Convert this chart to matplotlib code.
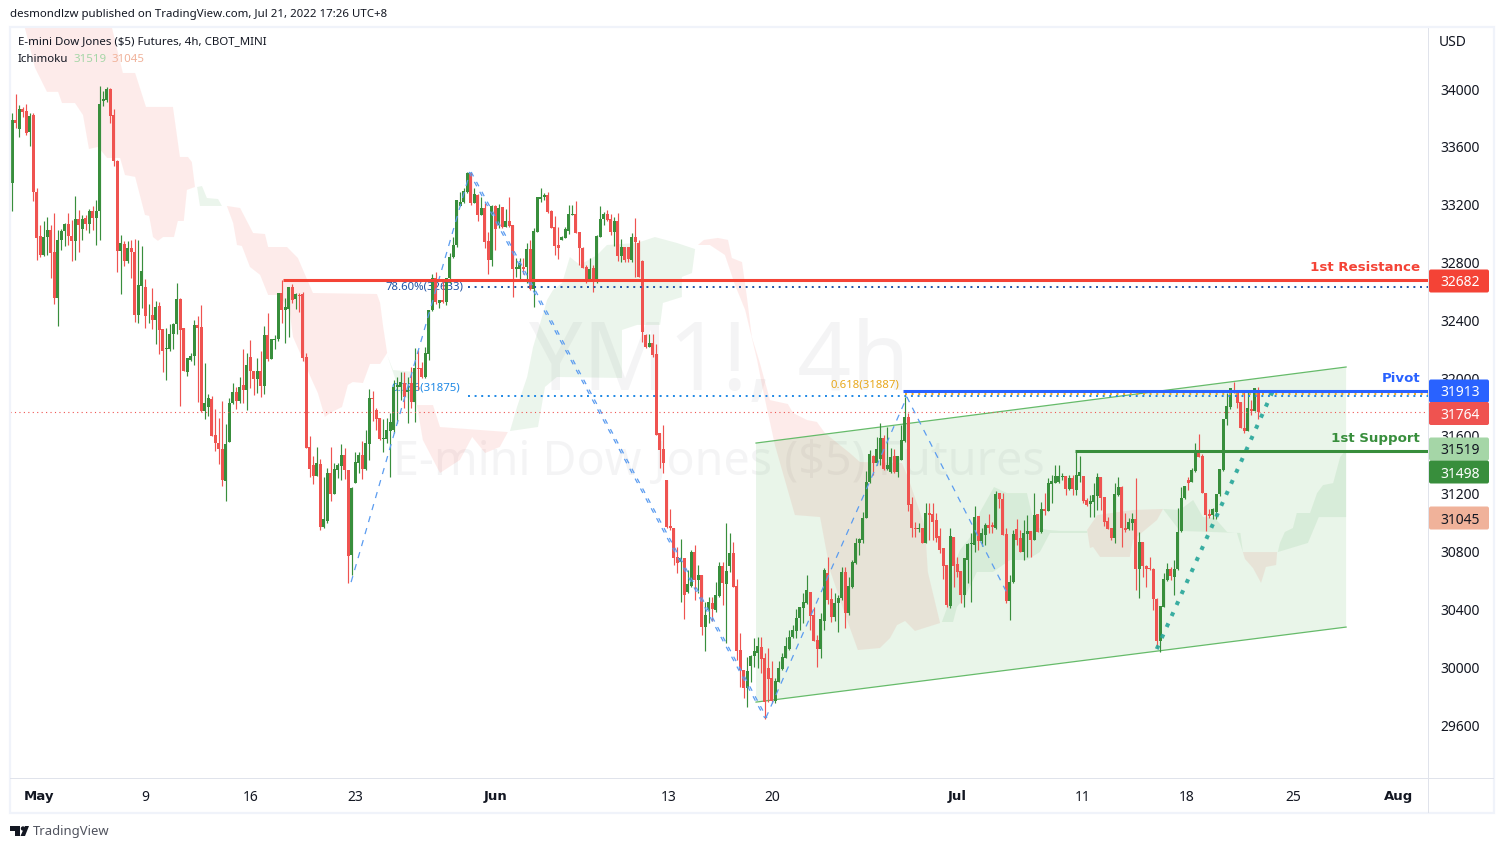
"""
YM1! 4h chart, TradingView snapshot
"""
import matplotlib
matplotlib.use('Agg')
import matplotlib.pyplot as plt
from matplotlib.patches import FancyBboxPatch, Rectangle, Polygon, Circle
from matplotlib.transforms import IdentityTransform
import numpy as np

plt.rcParams['font.family'] = ['Noto Sans', 'DejaVu Sans']

# candles (bar 0 = first candle)
opens = [
    33349,33786,33726,33860,33848,33706,33821,33287,32983,32850,
    32974,33025,32873,32553,32954,33018,33068,32983,32946,33103,
    33034,33110,33068,33158,33105,33153,33920,33924,34000,33821,
    33503,32882,32930,32813,32903,32875,32436,32636,32627,32436,
    32440,32401,32496,32337,32204,32199,32307,32372,32544,32344,
    32043,32123,32153,32369,32351,31771,31799,31859,31610,31550,
    31513,31290,31555,31831,31905,31843,31950,31918,32148,32052,
    31992,32047,31946,32300,32130,32264,32268,32586,32470,32475,
    32627,32544,32577,32579,32144,31523,31399,31325,31406,30970,
    31014,31341,31198,31364,31392,31468,31364,30776,31277,31415,
    31468,31371,31544,31862,31779,31722,31577,31577,31636,31641,
    31936,31941,31968,31906,31968,31837,32068,32068,32010,32165,
    32471,32690,32522,32540,32527,32690,32836,32921,33193,33216,
    33290,33417,33209,33267,33129,33179,32949,32817,33191,33059,
    33182,33048,33087,33059,32753,32753,32766,32771,32893,32614,
    33013,33237,33255,33267,33158,33043,32921,32956,32972,33020,
    33129,33133,33013,32903,32771,32674,32764,32674,32979,33099,
    33135,33099,33013,33087,32845,32905,32905,32817,32974,32937,
    32810,32298,32218,32245,32165,31618,31507,31295,30977,30963,
    30760,30726,30753,30518,30564,30795,30603,30638,30276,30396,
    30442,30396,30493,30700,30576,30700,30792,30562,30119,29981,
    29854,30009,30078,30101,30142,30064,29992,29923,29769,29900,
    29988,30066,30124,30211,30253,30343,30412,30442,30518,30361,
    30188,30124,30322,30650,30472,30345,30442,30476,30661,30377,
    30557,30721,30857,30880,31032,31284,31461,31410,31443,31583,
    31369,31353,31461,31353,31434,31565,31729,31127,30963,30954,
    30961,30862,31064,31057,31018,30908,30822,30707,30424,30903,
    30714,30666,30500,30742,30852,30845,31048,30875,30915,30984,
    30982,30961,31203,31161,30919,30458,30587,30956,30896,30799,
    30922,30942,30880,31057,30938,31092,31083,31268,31277,31279,
    31318,31325,31230,31311,31226,31322,31322,31154,31129,31145,
    31184,31318,31175,31011,30960,30891,31189,31246,30960,30954,
    30995,31023,30679,30864,30702,30686,30679,30474,30183,30419,
    30603,30677,30626,30677,30944,31168,31295,31283,31359,31498,
    31461,31207,31060,31053,31076,31196,31364,31715,31802,31913,
    31906,31837,31657,31636,31784,31775,31917]
closes = [
    33786,33768,33860,33844,33699,33814,33285,32967,32850,32979,
    33025,32864,32553,32956,33018,33068,32981,32946,33103,33057,
    33103,33068,33158,33105,33158,33896,33929,34000,33816,33499,
    32882,32937,32813,32903,32870,32436,32645,32744,32429,32440,
    32401,32489,32332,32187,32208,32307,32376,32544,32332,32047,
    32137,32153,32369,32346,31771,31831,31866,31601,31550,31509,
    31297,31541,31831,31907,31843,31941,31918,32089,32047,31992,
    32047,31946,32296,32130,32268,32273,32586,32470,32489,32627,
    32539,32581,32567,32137,31516,31371,31325,31412,30972,31025,
    31341,31198,31371,31399,31468,31364,30772,31240,31417,31468,
    31371,31549,31862,31858,31717,31577,31583,31641,31694,31941,
    31950,31971,31872,31918,31837,32068,32063,32010,32172,32471,
    32690,32529,32540,32527,32690,32840,32921,33232,33221,33297,
    33417,33214,33271,33129,33179,32944,32817,33191,33029,33175,
    33048,33087,33055,32757,32766,32799,32757,32893,32614,33018,
    33255,33255,33267,33152,33041,32914,32903,32974,33032,33133,
    33133,33006,32903,32764,32674,32755,32674,32983,33099,33135,
    33094,33013,33087,32845,32905,32817,32822,32974,32944,32702,
    32321,32218,32245,32160,31607,31503,31415,30972,30961,30758,
    30723,30756,30500,30576,30797,30603,30638,30276,30361,30449,
    30400,30500,30700,30580,30666,30792,30557,30115,29981,29859,
    29974,30078,30115,30147,30059,29762,29919,29769,29905,29992,
    30073,30147,30211,30257,30343,30414,30449,30534,30354,30184,
    30124,30331,30673,30465,30345,30447,30476,30661,30377,30562,
    30728,30857,30887,31032,31284,31475,31410,31510,31588,31369,
    31399,31457,31353,31461,31572,31733,31122,30961,30954,30961,
    30862,31064,31053,31007,30896,30811,30703,30430,30908,30700,
    30661,30500,30758,30852,30857,31037,30875,30926,30984,30966,
    30968,31198,31161,30915,30458,30587,30922,30880,30799,30926,
    30942,30880,31053,30938,31092,31083,31272,31288,31323,31325,
    31325,31230,31311,31230,31329,31348,31150,31122,31152,31191,
    31318,31168,31002,30956,30896,31196,31246,30960,30947,31002,
    31023,30679,30864,30702,30677,30677,30469,30183,30423,30608,
    30677,30631,30677,30937,31168,31253,31276,31364,31498,31456,
    31203,31053,31046,31092,31196,31369,31715,31807,31929,31894,
    31830,31657,31636,31791,31775,31929,31764]
highs = [
    33832,33965,33890,33878,33896,33837,33832,33314,33061,33087,
    33114,33061,33142,33022,33032,33073,33142,33096,33257,33160,
    33130,33130,33170,33188,33229,34021,33986,34011,34005,33860,
    33510,32992,32946,32946,32958,32963,32958,32912,32689,32516,
    32625,32533,32528,32337,32349,32372,32383,32659,32556,32349,
    32142,32176,32401,32429,32503,32107,31893,31877,31785,31727,
    31842,31681,31866,31964,31941,32010,32199,32171,32261,32052,
    32142,32188,32360,32452,32273,32296,32590,32682,32556,32632,
    32648,32590,32590,32595,32171,31597,31463,31525,31440,31314,
    31376,31521,31410,31410,31542,31514,31364,31249,31491,31491,
    31565,31641,31925,31911,31793,31722,31717,31726,31756,31987,
    32010,32045,32045,32010,32079,32206,32194,32114,32217,32471,
    32718,32736,32540,32679,32690,32863,32979,33232,33290,33313,
    33428,33428,33313,33274,33255,33209,33013,33198,33198,33205,
    33186,33168,33255,33059,32829,32829,32829,32932,32956,33036,
    33255,33313,33278,33285,33163,33122,33048,32983,33048,33198,
    33198,33225,33013,32909,32783,32829,32783,32990,33191,33152,
    33163,33135,33117,33145,32960,32909,32905,33002,33105,32956,
    32817,32305,32305,32305,32236,31618,31676,31295,31092,30963,
    30834,30885,30753,30673,30811,30846,30707,30638,30453,30488,
    30488,30587,30730,30730,30995,30931,30864,30610,30235,29981,
    30073,30085,30200,30211,30207,30101,30131,30045,29923,30045,
    30096,30211,30257,30292,30400,30419,30511,30638,30518,30419,
    30223,30373,30684,30765,30546,30511,30500,30696,30691,30627,
    30742,30892,30892,31075,31360,31503,31468,31590,31692,31606,
    31664,31514,31507,31461,31676,31872,31756,31180,31007,31000,
    30961,31134,31134,31134,31064,30966,30822,30707,30961,30903,
    30765,30666,30758,30857,30926,31115,31048,30961,31000,31058,
    31007,31219,31208,31208,30961,30638,30949,31023,30949,31018,
    31053,30942,31203,31057,31145,31203,31307,31330,31399,31399,
    31341,31325,31329,31329,31491,31461,31322,31168,31191,31272,
    31346,31318,31175,31037,30960,31272,31318,31253,31064,31030,
    31064,31306,30937,30864,30707,30764,30684,30476,30423,30649,
    30718,30695,30741,31099,31249,31253,31318,31376,31553,31613,
    31475,31207,31092,31099,31196,31369,31715,31894,31929,31975,
    31917,31837,31913,31906,31848,31934,31936]
lows = [
    33154,33728,33671,33809,33685,33607,33222,32820,32836,32843,
    32850,32696,32516,32360,32889,32912,32921,32809,32820,32875,
    32958,33027,33004,33027,32923,32958,33883,33908,33768,33469,
    32733,32585,32779,32793,32696,32388,32379,32486,32346,32383,
    32337,32234,32165,32043,31988,32185,32199,32303,31808,32047,
    32015,32118,32089,31838,31767,31716,31739,31601,31497,31406,
    31256,31153,31555,31820,31785,31831,31831,31780,31934,31884,
    31900,31872,31888,32118,32130,32199,32257,32383,32245,32284,
    32521,32475,32456,32119,31516,31314,31268,31325,30949,30965,
    30995,31152,31198,31307,31295,31300,30585,30638,31277,31341,
    31302,31364,31434,31706,31641,31572,31491,31549,31314,31618,
    31687,31849,31791,31687,31791,31699,31918,32000,32000,32125,
    32467,32510,32483,32518,32506,32656,32829,32909,33191,33209,
    33283,33198,33209,33089,33129,32898,32720,32776,32886,33036,
    33036,33048,33048,32563,32702,32683,32720,32656,32610,32490,
    33013,33221,33232,33145,33036,32852,32822,32956,32967,32997,
    33129,33002,32783,32759,32660,32674,32598,32660,32979,33059,
    33087,32990,32914,32810,32806,32806,32806,32806,32702,32702,
    32252,32206,32213,32149,31607,31376,31341,30961,30949,30707,
    30650,30453,30331,30511,30557,30465,30511,30223,30114,30304,
    30322,30384,30488,30430,30165,30661,30557,30050,29865,29785,
    29727,29900,30004,29992,29958,29640,29762,29750,29755,29900,
    29981,30061,30119,30200,30200,30257,30304,30437,30257,30184,
    30004,30061,30257,30437,30315,30322,30246,30465,30269,30361,
    30546,30714,30776,30857,31032,31277,31330,31399,31399,31364,
    31364,31341,31346,31314,31434,31560,31083,30903,30903,30938,
    30857,30862,30880,30880,30869,30788,30610,30419,30407,30553,
    30626,30447,30419,30585,30453,30799,30811,30838,30845,30931,
    30926,30954,31099,30915,30447,30327,30580,30845,30799,30742,
    30765,30765,30880,30938,30931,31053,31083,31134,31277,31272,
    31295,31191,31226,31191,31191,31283,31133,31117,31041,31041,
    31087,31087,30979,30956,30880,30857,31184,30829,30937,30949,
    30949,30534,30476,30626,30557,30672,30395,30130,30107,30419,
    30598,30603,30499,30672,30937,31161,31226,31279,31352,31452,
    31203,30944,31030,31023,31023,31184,31359,31675,31786,31894,
    31791,31657,31622,31636,31744,31775,31715]

# ichimoku cloud outlines (bar, price)
red1_x = [3.6,6.5,9.9,13.1,14.2,17.9,20.2,21.9,24.5,27.1,30.8,32.2,35.1,37.9,39.1,40.2,41.6,43.1,46.2,47.3,49.0,49.9,52.2,51.3,50.2,47.9,45.9,38.2,35.1,31.6,28.5]
red1_y = [34422,34146,33980,33980,33903,33903,33820,33585,33599,33523,33523,33405,33392,33129,33122,32976,32949,32976,32976,33087,33087,33302,33322,33495,33530,33530,33876,33876,34111,34111,34422]
red2_x = [61.3,65.1,68.8,72.2,73.1,78.5,81.6,85.9,104.2,105.1,105.9,107.1,105.1,102.2,100.2,97.3,95.9,94.2,90.8,89.3,87.3,85.6,83.1,80.2,79.3,76.5,73.1,70.8,67.9,65.6,64.2,63.1]
red2_y = [33191,33177,33004,32997,32907,32907,32831,32589,32582,32520,32368,32174,32098,32098,31966,31973,31953,31800,31759,31731,31897,31987,32126,32285,32451,32575,32575,32714,32769,32914,32921,33073]
red3_x = [115.6,120.2,122.2,141.6,139.3,135.1,131.4,127.9,122.2,117.3]
red3_y = [31814,31814,31662,31627,31524,31482,31593,31434,31344,31572]
red4_x = [195.9,197.6,201.6,204.5,205.6,208.5,209.9,211.3,213.6,216.5,221.6,223.1,227.1,229.9,232.2,239.3,242.2,254.2,255.9,260.8,261.6,264.2,265.1,257.9,255.1,252.8,250.8,247.9,241.6,238.5,233.6,230.8,223.6,217.9,215.1,214.2,212.8,209.4,206.5,203.6,199.3]
red4_y = [32921,32956,32970,32956,32831,32803,32561,32285,32105,31848,31821,31759,31710,31697,31620,31482,31420,31413,31316,30970,30659,30396,30306,30251,30320,30292,30202,30133,30119,30327,30673,31039,31053,31537,31848,31953,32126,32471,32644,32852,32921]
red5_x = [307.1,310.0,320.2,328.8,327.1,320.2,319.3,310.8,308.8,307.9]
red5_y = [30950,31053,31088,31095,31019,30880,30763,30763,30832,30825]
red6_x = [351.6,361.4,361.1,358.2,356.8,354.5,352.2]
red6_y = [30797,30797,30707,30694,30583,30686,30749]
green1_x = [52.8,54.2,55.6,58.8,59.9,53.6]
green1_y = [33322,33329,33246,33239,33191,33191]
green2_x = [107.1,108.8,115.0,115.6,110.8]
green2_y = [32160,32056,32043,31814,31897]
green3_x = [142.2,144.2,147.1,148.8,152.8,154.5,157.1,159.3,162.2,167.1,169.9,178.5,183.6,189.9,195.1,194.2,191.3,191.3,185.9,185.1,178.5,174.2,174.2,155.6,152.2,150.2]
green3_y = [31634,31800,32008,32215,32541,32610,32658,32838,32783,32852,32921,32935,32976,32935,32893,32727,32700,32561,32520,32368,32368,32333,32001,32008,31939,31662]
green4_x = [265.6,267.9,268.8,270.8,274.2,276.5,280.5,284.2,289.9,292.2,295.9,299.4,307.1,307.1,296.5,293.6,289.9,285.1,280.2,275.6,272.2,269.9,268.8]
green4_y = [30313,30465,30694,30811,30915,31074,31247,31205,31205,30970,30950,30943,30943,30929,30929,30797,30742,30742,30659,30659,30486,30417,30313]
green5_x = [328.8,333.6,337.4,340.2,343.6,347.1,349.9,351.6,350.9,333.6]
green5_y = [31095,31088,31157,31039,31032,30936,30929,30797,30929,30943]
green6_x = [361.6,362.2,363.6,365.9,367.0,370.8,372.8,374.5,377.4,379.4,381.1,381.1,373.3,370.2]
green6_y = [30797,30860,30936,30963,31067,31067,31205,31260,31274,31454,31503,31039,31039,30860]

# drawings
channel_x = [212.5, 381.1, 381.1, 212.5]
channel_y = [31551, 32077, 30278, 29759]
zigzag_up_x = [96.8, 130.8]
zigzag_up_y = [30589, 33426]
zigzag_down_x = [130.8, 215.3]
zigzag_down_y = [33426, 29649]
zigzag_end_x = [215.3, 255.6, 284.5]
zigzag_end_y = [29649, 31869, 30500]
trend_x = [327.0, 360.8]
trend_y = [30126, 31945]

resistance, pivot, support, last_price = 32682, 31913, 31498, 31764
fib_786_pct, fib_786, fib_618 = 32633, 31875, 31887

price_ticks = [29600, 30000, 30400, 30800, 31200, 31600, 32000, 32400, 32800, 33200, 33600, 34000]
date_ticks = [7.6, 38, 68, 98, 138, 187.4, 217, 270, 305.8, 335.6, 366, 396]
date_labels = ['May', '9', '16', '23', 'Jun', '13', '20', 'Jul', '11', '18', '25', 'Aug']

RED, GREEN = '#ef5350', '#388e3c'
W, H = 1504, 849

fig = plt.figure(figsize=(W / 100, H / 100), dpi=100, facecolor='white')
ax = fig.add_axes([10 / W, 1 - 778 / H, 1418 / W, 750 / H])
ax.set_xlim(-0.657, 404.5)
ax.set_ylim(29234, 34422)
for s in ax.spines.values():
    s.set_visible(False)

# watermark
ax.text(0.5, 0.55, 'YM1!, 4h', transform=ax.transAxes, ha='center', va='center', fontsize=68,
        color='#787b86', alpha=0.08, zorder=0)
ax.text(0.5, 0.42, 'E-mini Dow Jones ($5) Futures', transform=ax.transAxes, ha='center', va='center',
        fontsize=33.6, color='#787b86', alpha=0.08, zorder=0)

# clouds
for cx, cy in [(red1_x, red1_y), (red2_x, red2_y), (red3_x, red3_y), (red4_x, red4_y), (red5_x, red5_y), (red6_x, red6_y)]:
    ax.fill(cx, cy, color='#f44336', alpha=0.1, lw=0, zorder=1)
for cx, cy in [(green1_x, green1_y), (green2_x, green2_y), (green3_x, green3_y), (green4_x, green4_y), (green5_x, green5_y), (green6_x, green6_y)]:
    ax.fill(cx, cy, color='#43a047', alpha=0.1, lw=0, zorder=1)

# channel
ax.fill(channel_x, channel_y, color='#4caf50', alpha=0.12, lw=0, zorder=2)
ax.plot(channel_x[:2], channel_y[:2], color='#66bb6a', lw=0.9, zorder=2.5)
ax.plot(channel_x[2:], channel_y[2:], color='#66bb6a', lw=0.9, zorder=2.5)

# fib labels sit under the candles
ax.text(128.8, fib_786_pct, '78.60%(32633)', ha='right', va='center', fontsize=8.2, color='#1e53a5', zorder=2.6)
ax.text(127.9, 31930, '0.786(31875)', ha='right', va='center', fontsize=8.2, color='#1e88e5', zorder=2.6)
ax.text(253.4, 31950, '0.618(31887)', ha='right', va='center', fontsize=8.2, color='#e8a81c', zorder=2.6)

# candles
opens, closes, highs, lows = map(np.array, (opens, closes, highs, lows))
bars = np.arange(len(opens))
colors = np.where(closes >= opens, GREEN, RED)
ax.vlines(bars, lows, highs, colors=colors, lw=0.85, zorder=3)
ax.bar(bars, np.abs(closes - opens), bottom=np.minimum(opens, closes), width=0.92, color=colors, lw=0, zorder=3)

# zigzag
zz = '#5b9cf0'
ax.plot(zigzag_up_x, zigzag_up_y, color=zz, lw=0.9, ls=(0, (5, 5)), zorder=4)
ax.plot(zigzag_end_x, zigzag_end_y, color=zz, lw=0.9, ls=(0, (5, 5)), zorder=4)
for off in (-0.3, 0.3):
    ax.plot(np.array(zigzag_down_x) + off, zigzag_down_y, color=zz, lw=0.9, ls=(0, (4, 5)), zorder=4)

# dotted levels
ax.plot([-0.657, 404.5], [last_price] * 2, color=RED, lw=0.8, ls=(0, (1, 3)), zorder=4)
ax.plot([130.2, 404.5], [fib_786_pct] * 2, color='#1e53a5', lw=1.4, ls=(0, (1, 2.4)), zorder=4)
ax.plot([130.2, 404.5], [fib_786] * 2, color='#1e88e5', lw=1.4, ls=(0, (1, 2.4)), zorder=4)
ax.plot([255.1, 404.5], [fib_618] * 2, color='#f0a81e', lw=1.4, ls=(0, (1, 2.4)), zorder=4)

# trend line
ax.plot(trend_x, trend_y, color='#26a69a', lw=2.9, ls=(0, (1, 2)), alpha=0.9, zorder=5)

# support / resistance
ax.plot([77.3, 404.5], [resistance] * 2, color='#f44336', lw=2.2, solid_capstyle='butt', zorder=5)
ax.plot([254.5, 404.5], [pivot] * 2, color='#2962ff', lw=2.2, solid_capstyle='butt', zorder=5)
ax.plot([303.6, 404.5], [support] * 2, color=GREEN, lw=2.2, solid_capstyle='butt', zorder=5)
for txt, lvl, col in [('1st Resistance', resistance, '#f44336'), ('Pivot', pivot, '#2962ff'), ('1st Support', support, GREEN)]:
    ax.annotate(txt, (402.2, lvl), xytext=(0, 4), textcoords='offset points', ha='right', va='bottom',
                fontsize=9.6, fontweight='bold', family='DejaVu Sans', color=col, zorder=6)

# axes
ax.yaxis.tick_right()
ax.set_yticks(price_ticks)
ax.tick_params(axis='y', length=0, pad=8.6, labelsize=10, labelcolor='#131722')
ax.set_xticks(date_ticks)
ax.set_xticklabels(date_labels)
ax.tick_params(axis='x', length=0, pad=8.5, labelsize=10, labelcolor='#131722')
for lab in ax.get_xticklabels():
    if lab.get_text() in ('May', 'Jun', 'Jul', 'Aug'):
        lab.set_fontweight('bold')
        lab.set_family('DejaVu Sans')
        lab.set_fontsize(9.5)

# frame, in pixels
px = IdentityTransform()
def yy(y):
    return H - y

fig.add_artist(Rectangle((10, yy(813)), 1484, 786, transform=px, fc='none', ec='#f0f3fa', lw=1.6, zorder=2))
fig.add_artist(Rectangle((1428, yy(813)), 1, 785, transform=px, fc='#e0e3eb', ec='none', zorder=2))
fig.add_artist(Rectangle((10, yy(778.5)), 1484, 1, transform=px, fc='#e0e3eb', ec='none', zorder=2))

# price labels
labels = [('32682', 281, '#f44336', 'white'), ('31913', 391, '#2962ff', 'white'), ('31764', 413.5, RED, 'white'),
          ('31519', 449, '#a5d6a7', '#131722'), ('31498', 472, GREEN, 'white'), ('31045', 518, '#f0b29a', '#131722')]
for txt, y, bg, fg in labels:
    fig.add_artist(FancyBboxPatch((1429, yy(y + 11.5)), 60, 23, boxstyle='round,pad=0,rounding_size=2',
                                  transform=px, fc=bg, ec='none', zorder=5))
    fig.text(1460.5, yy(y), txt, transform=px, ha='center', va='center_baseline', fontsize=10, color=fg, zorder=6)

# header text
fig.text(10, yy(15), 'desmondlzw published on TradingView.com, Jul 21, 2022 17:26 UTC+8', transform=px,
         va='center', fontsize=8.25, color='#131722')
fig.text(18, yy(42), 'E-mini Dow Jones ($5) Futures, 4h, CBOT_MINI', transform=px, va='center', fontsize=8.25, color='#131722')
fig.text(18, yy(59), 'Ichimoku', transform=px, va='center', fontsize=8.25, color='#131722')
fig.text(73, yy(59), '31519', transform=px, va='center', fontsize=8.25, color='#a5d6a7')
fig.text(112, yy(59), '31045', transform=px, va='center', fontsize=8.25, color='#f0b29a')
fig.text(1439, yy(42), 'USD', transform=px, va='center', fontsize=10, color='#131722')

# TradingView logo
fig.add_artist(Polygon([(10, yy(826)), (20, yy(826)), (20, yy(836)), (15, yy(836)), (15, yy(831)), (10, yy(831))],
                       transform=px, fc='#131722', ec='none'))
fig.add_artist(Circle((23, yy(828.5)), 2.2, transform=px, fc='#131722', ec='none'))
fig.add_artist(Polygon([(25, yy(826)), (29, yy(826)), (25, yy(836)), (20.5, yy(836))], transform=px, fc='#131722', ec='none'))
fig.text(33, yy(831), 'TradingView', transform=px, va='center', fontsize=9.4, color='#50535e')

fig.savefig('out.png', dpi=100)
